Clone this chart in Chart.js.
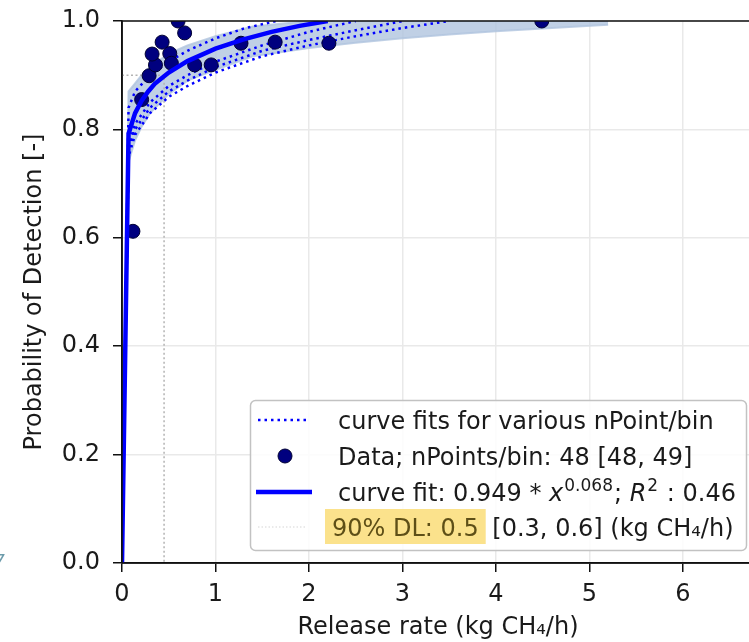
<!DOCTYPE html>
<html>
<head>
<meta charset="utf-8">
<script src="https://cdn.jsdelivr.net/npm/chart.js@4.4.1/dist/chart.umd.min.js"></script>
<style>
  html, body { margin: 0; padding: 0; background: #fff; overflow: hidden; }
  #podChart { position: absolute; left: 0; top: 0; }
</style>
</head>
<body>
<canvas id="podChart" width="762" height="642"></canvas>
<script>
// axis ticks
const xTicks = [0, 1, 2, 3, 4, 5, 6];
const yTicks = [0, 0.2, 0.4, 0.6, 0.8, 1.0];

// binned data: release rate (kg CH4/h) vs probability of detection
const dataX = [0.117, 0.21, 0.29, 0.358, 0.322, 0.429, 0.511, 0.528, 0.60, 0.67, 0.777, 0.954, 1.273, 1.638, 2.213, 4.49];
const dataY = [0.612, 0.855, 0.899, 0.919, 0.939, 0.961, 0.94, 0.922, 1.0, 0.978, 0.919, 0.919, 0.959, 0.961, 0.959, 1.0];

// main curve fit
const fitX = [0, 0.07, 0.14, 0.21, 0.28, 0.35, 0.5, 0.7, 1.0, 1.3, 1.6, 1.9, 2.2];
const fitY = [0, 0.792, 0.83, 0.853, 0.87, 0.884, 0.905, 0.926, 0.949, 0.966, 0.98, 0.991, 1.0];

// curve fits for other nPoint/bin (dotted)
const dotAX = [0, 0.07, 0.14, 0.3, 0.5, 0.7, 1.0, 1.3, 1.65];
const dotAY = [0, 0.84, 0.87, 0.9, 0.925, 0.945, 0.968, 0.986, 1.0];
const dotBX = [0, 0.07, 0.14, 0.3, 0.5, 0.7, 1.0, 1.5, 2.0, 2.5];
const dotBY = [0, 0.77, 0.81, 0.85, 0.88, 0.9, 0.925, 0.955, 0.98, 1.0];
const dotCX = [0, 0.07, 0.14, 0.3, 0.5, 0.7, 1.0, 1.5, 2.0, 2.5, 3.0];
const dotCY = [0, 0.76, 0.80, 0.84, 0.87, 0.89, 0.915, 0.945, 0.965, 0.983, 1.0];
const dotDX = [0, 0.07, 0.14, 0.3, 0.5, 0.7, 1.0, 1.5, 2.0, 2.5, 3.0, 3.5];
const dotDY = [0, 0.75, 0.79, 0.83, 0.86, 0.88, 0.905, 0.935, 0.955, 0.972, 0.987, 1.0];

// light blue band of fits
const bandX = [0, 0.07, 0.14, 0.21, 0.3, 0.5, 0.7, 1.0, 1.4, 2.0, 2.5, 3.0, 3.5, 4.0, 4.6, 5.2];
const bandUpper = [0, 0.87, 0.885, 0.9, 0.915, 0.94, 0.955, 0.972, 0.99, 1.0, 1.0, 1.0, 1.0, 1.0, 1.0, 1.0];
const bandLower = [0, 0.74, 0.78, 0.805, 0.83, 0.865, 0.89, 0.91, 0.935, 0.95, 0.96, 0.968, 0.975, 0.981, 0.987, 0.993];

// 90% detection limit guide
const dlX = [0, 0.45, 0.45];
const dlY = [0.9, 0.9, 0];

// legend text
const legendLabels = ['curve fits for various nPoint/bin', 'Data; nPoints/bin: 48 [48, 49]'];
const fitLabelParts = [['curve fit: 0.949 ', 'n'], ['*', 'n'], [' ', 'n'], ['x', 'i'], ['0.068', 's'], ['; ', 'n'], ['R', 'i'], ['2', 's'], [' : 0.46', 'n']];
const dlLabelMark = '90% DL: 0.5';
const dlLabelRest = ' [0.3, 0.6] (kg CH\u2084/h)';

const FONT = '"DejaVu Sans", sans-serif';
const pts = (xs, ys) => xs.map((x, i) => ({ x: x, y: ys[i] }));

const spines = {
  id: 'spines',
  afterDatasetsDraw(chart) {
    const { ctx, chartArea: a } = chart;
    ctx.save();
    ctx.strokeStyle = '#111';
    ctx.lineWidth = 1.6;
    ctx.beginPath();
    ctx.moveTo(a.left, a.bottom); ctx.lineTo(a.left, a.top);
    ctx.lineTo(a.right + 2, a.top);
    ctx.moveTo(a.left, a.bottom); ctx.lineTo(a.right + 2, a.bottom);
    ctx.stroke();
    ctx.restore();
  }
};

const legendBox = {
  id: 'legendBox',
  afterDraw(chart) {
    const ctx = chart.ctx;
    ctx.save();
    ctx.beginPath();
    ctx.roundRect(250.5, 400.5, 496, 150, 5);
    ctx.fillStyle = 'rgba(255,255,255,0.85)';
    ctx.fill();
    ctx.strokeStyle = '#c2c2c2';
    ctx.lineWidth = 1.5;
    ctx.stroke();

    const tx = 338;
    const rows = [420, 456, 492, 527];
    ctx.textBaseline = 'alphabetic';
    ctx.textAlign = 'left';
    ctx.fillStyle = '#1a1a1a';
    ctx.font = '24px ' + FONT;

    // row 1: dotted blue
    ctx.strokeStyle = '#0000ff';
    ctx.lineWidth = 2.5;
    ctx.setLineDash([2.5, 4]);
    ctx.beginPath(); ctx.moveTo(258, rows[0]); ctx.lineTo(306, rows[0]); ctx.stroke();
    ctx.setLineDash([]);
    ctx.fillText(legendLabels[0], tx, rows[0] + 8.5);

    // row 2: navy dot
    ctx.beginPath(); ctx.arc(285, rows[1], 7, 0, Math.PI * 2);
    ctx.fillStyle = '#00007f'; ctx.fill();
    ctx.strokeStyle = '#000033'; ctx.lineWidth = 1; ctx.stroke();
    ctx.fillStyle = '#1a1a1a';
    ctx.fillText(legendLabels[1], tx, rows[1] + 8.5);

    // row 3: solid blue fit
    ctx.strokeStyle = '#0000ff'; ctx.lineWidth = 4.5;
    ctx.beginPath(); ctx.moveTo(256, rows[2]); ctx.lineTo(312, rows[2]); ctx.stroke();
    let x = tx;
    const base = rows[2] + 8.5;
    fitLabelParts.forEach(([t, kind]) => {
      if (kind === 's') { ctx.font = '17px ' + FONT; ctx.fillText(t, x + 1, base - 10); x += ctx.measureText(t).width + 2; }
      else if (kind === 'i') { ctx.font = 'oblique 24px ' + FONT; ctx.fillText(t, x, base); x += ctx.measureText(t).width; }
      else { ctx.font = '24px ' + FONT; ctx.fillText(t, x, base); x += ctx.measureText(t).width; }
    });

    // row 4: faint dotted + highlighted detection limit
    ctx.font = '24px ' + FONT;
    ctx.strokeStyle = '#d6d6d6'; ctx.lineWidth = 1.2; ctx.setLineDash([1.5, 2]);
    ctx.beginPath(); ctx.moveTo(258, rows[3]); ctx.lineTo(306, rows[3]); ctx.stroke();
    ctx.setLineDash([]);
    const markW = ctx.measureText(dlLabelMark).width;
    ctx.fillStyle = 'rgb(251,226,140)';
    ctx.fillRect(325, 509, markW + 14, 35);
    ctx.fillStyle = '#5e4f17';
    ctx.fillText(dlLabelMark, 332, rows[3] + 8.5);
    ctx.fillStyle = '#1a1a1a';
    ctx.fillText(dlLabelRest, tx + markW, rows[3] + 8.5);

    // stray fragment at the left edge of the crop
    ctx.fillStyle = '#6d9cab';
    ctx.font = 'oblique 17px ' + FONT;
    ctx.fillText('7', -6, 567);
    ctx.restore();
  }
};

const ctx = document.getElementById('podChart').getContext('2d');
new Chart(ctx, {
  type: 'scatter',
  data: {
    datasets: [
      {
        label: 'curve fit',
        data: pts(fitX, fitY),
        showLine: true, borderColor: '#0000ff', borderWidth: 4.5,
        pointRadius: 0, order: 0
      },
      {
        label: 'Data',
        data: pts(dataX, dataY),
        backgroundColor: '#00007f', borderColor: '#000033', borderWidth: 1,
        pointRadius: 7, order: 1
      },
      { data: pts(dotAX, dotAY), showLine: true, borderColor: '#0000ff', borderWidth: 2.5, borderDash: [2.5, 4], pointRadius: 0, order: 2 },
      { data: pts(dotBX, dotBY), showLine: true, borderColor: '#0000ff', borderWidth: 2.5, borderDash: [2.5, 4], pointRadius: 0, order: 2 },
      { data: pts(dotCX, dotCY), showLine: true, borderColor: '#0000ff', borderWidth: 2.5, borderDash: [2.5, 4], pointRadius: 0, order: 2 },
      { data: pts(dotDX, dotDY), showLine: true, borderColor: '#0000ff', borderWidth: 2.5, borderDash: [2.5, 4], pointRadius: 0, order: 2 },
      {
        data: pts(dlX, dlY), showLine: true, borderColor: '#b3b3b3', borderWidth: 1.5,
        borderDash: [2, 2.5], pointRadius: 0, order: 3
      },
      {
        data: pts(bandX, bandUpper), showLine: true, borderColor: 'rgba(176,196,222,0.8)', borderWidth: 2,
        backgroundColor: 'rgba(176,196,222,0.8)', fill: '+1', pointRadius: 0, order: 4
      },
      {
        data: pts(bandX, bandLower), showLine: true, borderColor: 'rgba(176,196,222,0.8)', borderWidth: 2,
        pointRadius: 0, order: 4
      }
    ]
  },
  options: {
    responsive: false,
    animation: false,
    layout: { padding: { top: 21, right: 1, bottom: 0, left: 0 } },
    plugins: { legend: { display: false }, tooltip: { enabled: false } },
    scales: {
      x: {
        type: 'linear', min: 0, max: 6.76,
        afterBuildTicks: (s) => { s.ticks = xTicks.map(v => ({ value: v })); },
        afterFit: (s) => { s.height = 79; s.paddingLeft = 0; s.paddingRight = 0; },
        ticks: { font: { family: FONT, size: 24 }, color: '#1a1a1a', padding: 8, maxRotation: 0, callback: (v) => String(v) },
        grid: { color: '#e9e9e9', lineWidth: 1.5, tickLength: 9, tickColor: '#111', tickWidth: 1.5 },
        border: { display: true, color: '#111', width: 1.6 },
        title: { display: true, text: 'Release rate (kg CH\u2084/h)', font: { family: FONT, size: 24 }, color: '#1a1a1a', padding: { top: 0, bottom: 0 } }
      },
      y: {
        type: 'linear', min: 0, max: 1,
        afterBuildTicks: (s) => { s.ticks = yTicks.map(v => ({ value: v })); },
        afterFit: (s) => { s.width = 122; s.paddingTop = 0; s.paddingBottom = 0; },
        ticks: { font: { family: FONT, size: 24 }, color: '#1a1a1a', padding: 13, callback: (v) => v.toFixed(1) },
        grid: { color: '#e9e9e9', lineWidth: 1.5, tickLength: 9, tickColor: '#111', tickWidth: 1.5 },
        border: { display: true, color: '#111', width: 1.6 },
        title: { display: true, text: 'Probability of Detection [-]', font: { family: FONT, size: 24 }, color: '#1a1a1a', padding: { top: 20, bottom: 0 } }
      }
    }
  },
  plugins: [spines, legendBox]
});
</script>
</body>
</html>
